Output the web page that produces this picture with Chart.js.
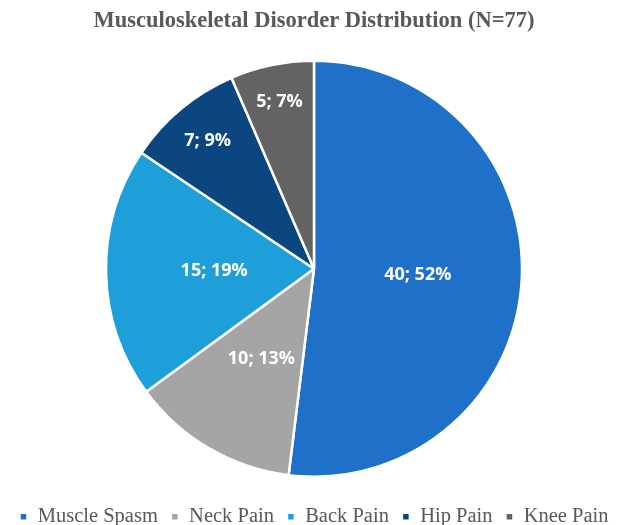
<!DOCTYPE html>
<html>
<head>
<meta charset="utf-8">
<script src="https://cdn.jsdelivr.net/npm/chart.js@4/dist/chart.umd.min.js"></script>
<style>
  html, body { margin: 0; padding: 0; background: #fff; }
  #wrap { width: 628px; height: 525px; }
</style>
</head>
<body>
<div id="wrap"><canvas id="myChart"></canvas></div>
<script>
var labels = ["Muscle Spasm", "Neck Pain", "Back Pain", "Hip Pain", "Knee Pain"];
var counts = [40, 10, 15, 7, 5];
var percents = [52, 13, 19, 9, 7];
var colors = ["#1f70c8", "#a5a5a5", "#1f9fda", "#0c4680", "#636363"];

// text "n; p%" on each slice, small slices pushed outward like Excel does
var sliceLabels = {
  id: "sliceLabels",
  afterDatasetsDraw: function (chart) {
    var ctx = chart.ctx;
    var meta = chart.getDatasetMeta(0);
    var far = [0.5, 0.5, 0.48, 0.8, 0.82];
    ctx.save();
    ctx.font = "bold 18px 'Open Sans'";
    ctx.fillStyle = "#ffffff";
    ctx.textAlign = "center";
    ctx.textBaseline = "middle";
    meta.data.forEach(function (arc, i) {
      var p = arc.getProps(["x", "y", "startAngle", "endAngle", "outerRadius"], true);
      var mid = (p.startAngle + p.endAngle) / 2;
      var r = p.outerRadius * far[i];
      ctx.fillText(counts[i] + "; " + percents[i] + "%", p.x + Math.cos(mid) * r, p.y + Math.sin(mid) * r);
    });
    ctx.restore();
  }
};

var ctx = document.getElementById("myChart").getContext("2d");
var myChart = new Chart(ctx, {
  type: "pie",
  data: {
    labels: labels,
    datasets: [{
      data: counts,
      backgroundColor: colors,
      borderColor: "#ffffff",
      borderWidth: 2.5,
      radius: 208
    }]
  },
  options: {
    responsive: true,
    maintainAspectRatio: false,
    animation: false,
    layout: { padding: { bottom: -12 } },
    plugins: {
      title: {
        display: true,
        text: "Musculoskeletal Disorder Distribution (N=77)",
        color: "#595959",
        font: { family: "'Liberation Serif'", size: 22.5, weight: "bold" },
        padding: { top: 8, bottom: 9 }
      },
      legend: {
        position: "bottom",
        labels: {
          color: "#595959",
          font: { family: "'Liberation Serif'", size: 20.5 },
          boxWidth: 8,
          boxHeight: 8,
          padding: 13
        }
      },
      tooltip: { enabled: false }
    }
  },
  plugins: [sliceLabels]
});
</script>
</body>
</html>
